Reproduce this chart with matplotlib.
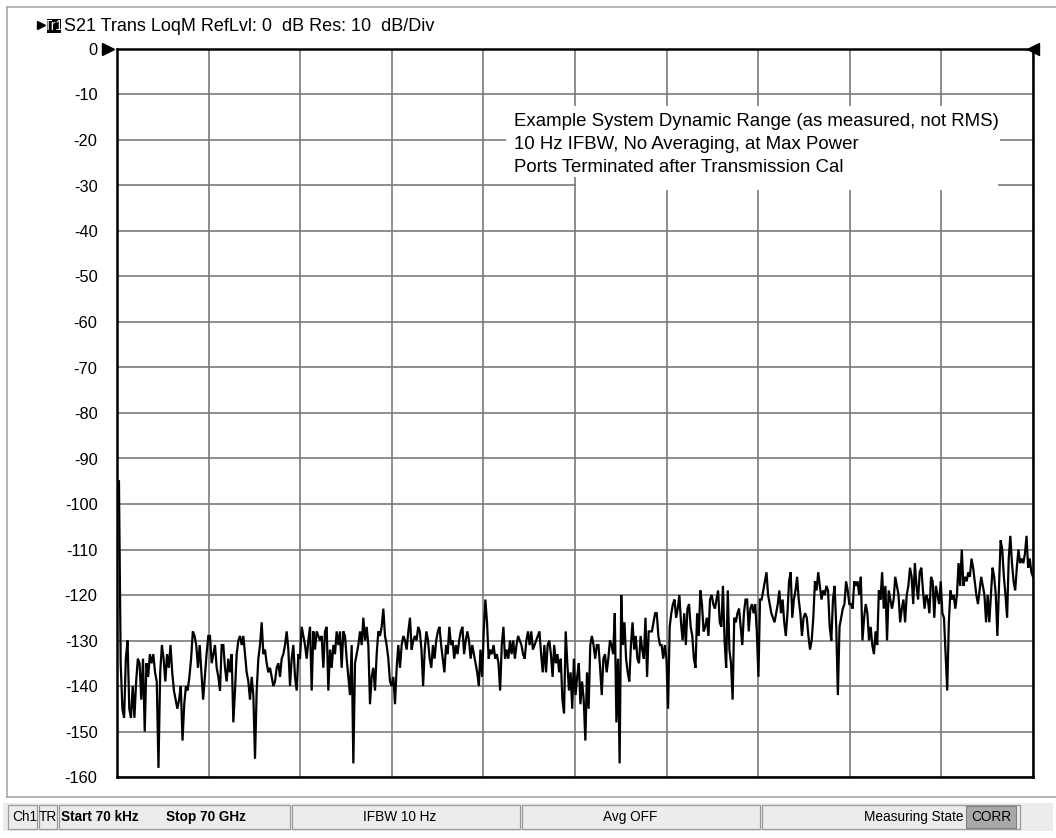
import numpy as np
import matplotlib
matplotlib.use("Agg")
import matplotlib.pyplot as plt
from matplotlib.patches import Rectangle
from matplotlib.lines import Line2D

# ---------------- data ----------------
# sweep segment boundaries in GHz (trace points are equally spaced within each)
seg_edges_ghz = [0.15, 7.107, 14.75, 22.39, 30.03, 37.67, 45.32, 52.96, 60.60, 70.0]

seg1_db = [-95, -135, -145, -147, -134, -130, -145, -147, -140, -147, -139, -134, -135, -143,
           -134, -150, -135, -138, -133, -135, -133, -137, -139, -158, -137, -131, -134, -139,
           -133, -136, -131, -137, -141, -143, -145, -143, -140, -152, -144, -140, -141, -138,
           -134, -128, -129, -131, -136, -131, -137, -143, -138, -133, -129]
seg2_db = [-129, -135, -133, -131, -136, -138, -141, -131, -131, -136, -139, -134, -137, -133,
           -148, -141, -133, -130, -129, -131, -129, -133, -137, -139, -143, -138, -142, -156,
           -141, -134, -131, -126, -133, -132, -135, -137, -136, -138, -140, -139, -136, -135,
           -138, -134, -133, -131, -128, -132, -140, -134, -131, -138, -141, -133, -134, -127,
           -129, -131, -134, -130]
seg3_db = [-127, -141, -128, -132, -128, -129, -130, -129, -136, -128, -127, -141, -132, -136,
           -131, -133, -128, -131, -128, -136, -128, -129, -134, -138, -142, -131, -157, -135,
           -133, -131, -128, -131, -125, -130, -127, -131, -144, -138, -136, -141, -133, -128,
           -129, -127, -123, -129, -131, -134, -139, -140, -138, -144, -136, -131, -136, -131,
           -129, -130, -132, -128]
seg4_db = [-125, -132, -130, -129, -130, -127, -128, -132, -140, -132, -128, -130, -134, -136,
           -131, -134, -130, -128, -127, -131, -134, -137, -131, -133, -127, -131, -130, -134,
           -131, -133, -130, -128, -127, -133, -130, -128, -130, -134, -131, -133, -135, -137,
           -140, -132, -138, -128, -121, -126, -134, -132, -133, -131, -134, -133, -135, -141,
           -131, -127, -134, -132, -134]
seg5_db = [-130, -133, -130, -134, -131, -129, -130, -131, -133, -134, -130, -128, -131, -128,
           -132, -131, -130, -129, -128, -133, -137, -131, -137, -131, -130, -133, -138, -131,
           -135, -133, -137, -134, -143, -146, -128, -135, -141, -137, -145, -134, -142, -138,
           -135, -144, -139, -143, -152, -137, -145, -131, -129, -131, -134, -131, -131, -136,
           -142, -134, -133, -137, -134]
seg6_db = [-130, -131, -133, -124, -148, -134, -157, -120, -131, -126, -134, -137, -139, -131,
           -126, -132, -129, -134, -135, -129, -132, -134, -125, -138, -128, -128, -128, -126,
           -124, -124, -129, -131, -131, -134, -131, -134, -145, -127, -124, -122, -121, -125,
           -123, -120, -126, -130, -124, -131, -123, -122, -127, -129, -134, -136, -124, -129,
           -119, -122, -128, -127, -125, -129]
seg7_db = [-121, -120, -122, -123, -121, -119, -126, -127, -118, -130, -136, -119, -132, -135,
           -143, -125, -126, -124, -123, -127, -131, -124, -121, -121, -128, -123, -122, -124,
           -122, -128, -138, -121, -121, -119, -117, -115, -120, -122, -124, -125, -126, -124,
           -122, -119, -124, -121, -126, -129, -124, -117, -115, -125, -121, -119, -116, -121,
           -124, -129, -125, -124, -125, -129]
seg8_db = [-132, -130, -125, -117, -119, -115, -118, -121, -119, -120, -118, -119, -127, -130,
           -121, -118, -127, -142, -127, -125, -123, -122, -117, -119, -122, -122, -123, -117,
           -118, -117, -120, -116, -130, -125, -122, -124, -130, -127, -131, -133, -128, -131,
           -119, -121, -115, -123, -118, -130, -119, -121, -123, -121, -116, -118, -120, -126,
           -123, -121, -126, -120, -118]
seg9_db = [-114, -116, -122, -113, -118, -121, -115, -114, -119, -123, -120, -121, -124, -116,
           -117, -125, -118, -120, -122, -117, -124, -125, -133, -141, -126, -119, -121, -120,
           -123, -120, -113, -118, -110, -118, -116, -117, -115, -116, -112, -114, -117, -120,
           -122, -119, -116, -118, -120, -126, -120, -126, -120, -114, -116, -120, -129, -118,
           -108, -110, -116, -120, -125, -112, -107, -113, -117, -119, -114, -110, -113, -112,
           -113, -111, -107, -114, -112, -115, -116]
segments_db = [seg1_db, seg2_db, seg3_db, seg4_db, seg5_db, seg6_db, seg7_db, seg8_db, seg9_db]

y_ticks = list(range(0, -161, -10))
x_grid_ghz = list(range(0, 71, 7))

header_text = "S21 Trans LoqM RefLvl: 0  dB Res: 10  dB/Div"
note_lines = ["Example System Dynamic Range (as measured, not RMS)",
              "10 Hz IFBW, No Averaging, at Max Power",
              "Ports Terminated after Transmission Cal"]

# ---------------- build trace ----------------
freq = []
vals = []
for k, seg in enumerate(segments_db):
    last = (k == len(segments_db) - 1)
    f = np.linspace(seg_edges_ghz[k], seg_edges_ghz[k + 1], len(seg), endpoint=last)
    freq.extend(f)
    vals.extend(seg)

# ---------------- figure ----------------
W, H = 1056, 838
fig = plt.figure(figsize=(W / 100, H / 100), dpi=100)
fig.patch.set_facecolor("white")

def fx(px):
    return px / W

def fy(py):
    return 1 - py / H

FONT = ['Liberation Sans', 'DejaVu Sans']

# outer window frame lines
fig.add_artist(Line2D([fx(7), fx(7)], [fy(7), fy(797)], color="#a8a8a8", lw=1.2))
fig.add_artist(Line2D([fx(7), fx(1056)], [fy(7), fy(7)], color="#a8a8a8", lw=1.2))
fig.add_artist(Line2D([fx(7), fx(1056)], [fy(797), fy(797)], color="#a8a8a8", lw=1.2))

ax = fig.add_axes([fx(117), fy(777), (1033 - 117) / W, (777 - 49) / H])
ax.set_xlim(0, 70)
ax.set_ylim(-160, 0)
ax.set_yticks(y_ticks)
ax.set_yticklabels([str(v) for v in y_ticks], family=FONT, fontsize=11.8)
ax.set_xticks(x_grid_ghz)
ax.set_xticklabels([])
ax.tick_params(length=0, pad=14)
ax.grid(True, color="#7a7a7a", lw=1.2)
ax.set_axisbelow(True)
for sp in ax.spines.values():
    sp.set_linewidth(1.8)
    sp.set_color("black")

# white box behind the note (hides grid)
ax.add_patch(Rectangle((29.7, -28.1), 67.5 - 29.7, 28.1 - 12.5, facecolor="white",
                       edgecolor="none", zorder=1.5))
ax.add_patch(Rectangle((35.1, -31.0), 67.3 - 35.1, 31.0 - 28.0, facecolor="white",
                       edgecolor="none", zorder=1.5))

ax.plot(freq, vals, color="black", lw=1.6, zorder=3, solid_joinstyle="miter")

# reference level markers
ax.plot([-0.7], [0], marker=">", color="black", markersize=8, clip_on=False, zorder=4)
ax.plot([70.0], [0], marker="<", color="black", markersize=8, clip_on=False, zorder=4)

# note text
for i, line in enumerate(note_lines):
    fig.text(fx(514), fy(126 + 23 * i), line, family=FONT, fontsize=13.4,
             va="baseline", ha="left", color="black")

# header
fig.add_artist(Line2D([fx(41)], [fy(25)], marker=">", color="black", markersize=6,
                      linestyle="none"))
fig.patches.append(Rectangle((fx(47), fy(33)), 14 / W, 14 / H, facecolor="black",
                             edgecolor="none", transform=fig.transFigure, figure=fig))
fig.text(fx(54), fy(26), "Tr1", family=FONT, fontsize=9.8, color="white",
         va="center", ha="center")
fig.text(fx(64), fy(26.5), header_text, family=FONT, fontsize=13.0, va="center", ha="left")

# ---------------- status bar ----------------
sb_top, sb_bot = 803, 831
fig.patches.append(Rectangle((fx(3), fy(sb_bot)), fx(1050), (sb_bot - sb_top) / H,
                             facecolor="#ececec", edgecolor="none",
                             transform=fig.transFigure, figure=fig))
cells = [(8, 37), (39, 57), (59, 290), (292, 520), (522, 760), (762, 1020)]
for a, b in cells:
    fig.patches.append(Rectangle((fx(a), fy(sb_bot - 2)), (b - a) / W, (sb_bot - sb_top - 4) / H,
                                 facecolor="none", edgecolor="#9a9a9a", lw=0.9,
                                 transform=fig.transFigure, figure=fig))
fig.patches.append(Rectangle((fx(966), fy(sb_bot - 3)), 50 / W, (sb_bot - sb_top - 6) / H,
                             facecolor="#a8a8a8", edgecolor="#808080", lw=0.8,
                             transform=fig.transFigure, figure=fig))
ys = fy(817)
SB = 9.8
fig.text(fx(12), ys, "Ch1", family=FONT, fontsize=SB, va="center", ha="left")
fig.text(fx(48), ys, "TR", family=FONT, fontsize=SB, va="center", ha="center")
fig.text(fx(61), ys, "Start 70 kHz", family=FONT, fontsize=SB, fontweight="bold",
         va="center", ha="left")
fig.text(fx(166), ys, "Stop 70 GHz", family=FONT, fontsize=SB, fontweight="bold",
         va="center", ha="left")
fig.text(fx(400), ys, "IFBW 10 Hz", family=FONT, fontsize=SB, va="center", ha="center")
fig.text(fx(630), ys, "Avg OFF", family=FONT, fontsize=SB, va="center", ha="center")
fig.text(fx(963), ys, "Measuring State", family=FONT, fontsize=SB, va="center", ha="right")
fig.text(fx(991), ys, "CORR", family=FONT, fontsize=SB, va="center", ha="center")

fig.savefig("out.png", dpi=100, facecolor="white")
